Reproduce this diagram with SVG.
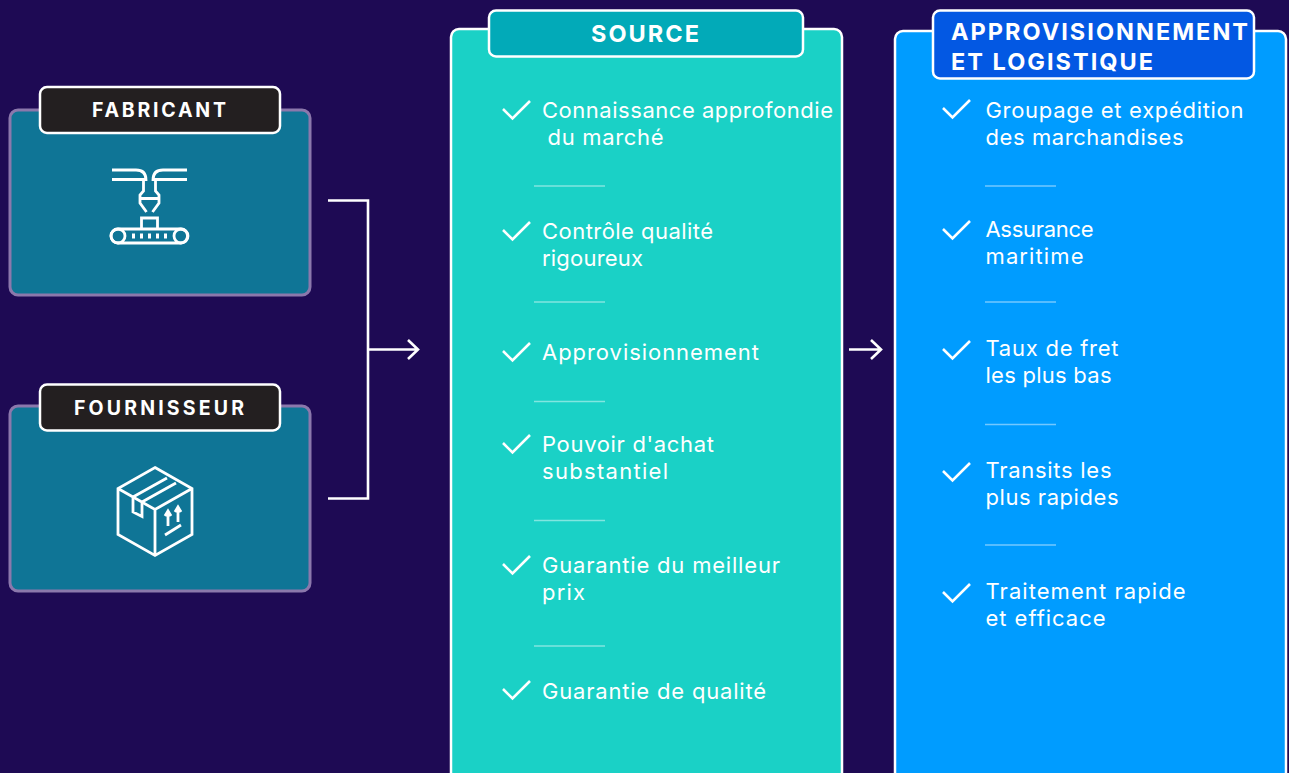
<svg xmlns="http://www.w3.org/2000/svg" width="1289" height="773" viewBox="0 0 1289 773">
<style>
.card{stroke-width:3}
.side{fill:#0f7596;stroke:#8b78ac}
.tag{stroke:#fff;stroke-width:2.5}
.h{font-family:"Inter","Liberation Sans",sans-serif;font-weight:700;fill:#fff;font-size:19.500px}
.hl{font-size:23.500px}
.b{font-family:"Inter","Noto Sans",sans-serif;font-weight:400;fill:#fff;font-size:22px}
.ck{fill:none;stroke:#fff;stroke-width:2.6}
.div{stroke:#fff;stroke-opacity:.45;stroke-width:1.4}
.ic{fill:none;stroke:#fff;stroke-width:2.8}
.c{fill:none;stroke:#fff;stroke-width:2.6}
</style>
<defs><path id="ck" class="ck" d="M0 -3L9.500 6.500L27 -11"/></defs>
<rect width="1289" height="773" fill="#1e0a54"/>
<g id="connectors">
<path class="c" d="M328 200.500H368V498.500H328"/>
<path class="c" d="M368 349.500H417M408 340L418 349.500L408 359"/>
<path class="c" d="M849 349.500H880M871 340L881 349.500L871 359"/>
</g>
<g id="fabricant">
<rect class="card side" x="10" y="110" width="300" height="185" rx="8"/>
<rect class="tag" x="40" y="87" width="240" height="46" rx="7" fill="#231f20"/>
<text class="h" x="159" y="116.500" text-anchor="middle" textLength="134">FABRICANT</text>
<g class="ic">
<path d="M112 170H136Q146 170 146 180V181M187 170H163Q153 170 153 180V181M112 179.500H145M187 179.500H154"/>
<path d="M143.500 181V191L140 195V203L146.500 212M155.500 181V191L159 195V203L152.500 212M140 198.500H159"/>
<path d="M141.500 228V218H157.500V228"/>
<rect x="111" y="229" width="76.500" height="14" rx="7"/>
<circle cx="118" cy="236" r="7"/><circle cx="181" cy="236" r="7"/>
<path d="M132 236H170" stroke-width="5" stroke-dasharray="3 5"/>
</g>
</g>
<g id="fournisseur">
<rect class="card side" x="10" y="406" width="300" height="185" rx="8"/>
<rect class="tag" x="40" y="384.500" width="240" height="46" rx="7" fill="#231f20"/>
<text class="h" x="159" y="414.500" text-anchor="middle" textLength="170">FOURNISSEUR</text>
<g class="ic">
<path d="M155 467.500L192 488.500V534.500L155 555.500L118 534.500V488.500ZM118 488.500L155 509.500L192 488.500M155 509.500V555.500"/>
<path d="M133 498V512L142 516.500V503M133 497L167 478M142 502L176 483"/>
<path d="M168 526V513M165 516L168 511L171 516M178 522V509M175 512L178 507L181 512M165 535L181 525"/>
</g>
</g>
<g id="source">
<rect x="451" y="29" width="391" height="760" rx="8" fill="#1ad1c6" stroke="#fff" stroke-width="2.500"/>
<rect class="tag" x="489" y="10.500" width="314" height="46" rx="7" fill="#02aab8"/>
<text class="h hl" x="645" y="42" text-anchor="middle" textLength="108">SOURCE</text>
<g>
<use href="#ck" x="503" y="112"/>
<text class="b" x="542" y="118" textLength="291">Connaissance approfondie</text>
<text class="b" x="547.500" y="145" textLength="116">du marché</text>
<use href="#ck" x="503" y="233"/>
<text class="b" x="542" y="239" textLength="171">Contrôle qualité</text>
<text class="b" x="542" y="266" textLength="101">rigoureux</text>
<use href="#ck" x="503" y="354"/>
<text class="b" x="542" y="360" textLength="217">Approvisionnement</text>
<use href="#ck" x="503" y="446"/>
<text class="b" x="542" y="452" textLength="172">Pouvoir d'achat</text>
<text class="b" x="542" y="479" textLength="126">substantiel</text>
<use href="#ck" x="503" y="567"/>
<text class="b" x="542" y="573" textLength="238">Guarantie du meilleur</text>
<text class="b" x="542" y="600" textLength="43">prix</text>
<use href="#ck" x="503" y="692"/>
<text class="b" x="542" y="699" textLength="224">Guarantie de qualité</text>
<path class="div" d="M534 186H605M534 302H605M534 401.500H605M534 520.500H605M534 646H605"/>
</g>
</g>
<g id="appro">
<rect x="895" y="31" width="391" height="760" rx="8" fill="#009cff" stroke="#fff" stroke-width="2.500"/>
<rect class="tag" x="933" y="10.500" width="321" height="68" rx="7" fill="#0358e3"/>
<text class="h hl" x="951" y="40" textLength="297">APPROVISIONNEMENT</text>
<text class="h hl" x="951" y="70" textLength="202">ET LOGISTIQUE</text>
<use href="#ck" x="943" y="111"/>
<text class="b" x="985.500" y="118" textLength="258">Groupage et expédition</text>
<text class="b" x="985.500" y="145" textLength="198">des marchandises</text>
<use href="#ck" x="943" y="232"/>
<text class="b" x="985.500" y="237" textLength="108">Assurance</text>
<text class="b" x="985.500" y="264" textLength="98">maritime</text>
<use href="#ck" x="943" y="352"/>
<text class="b" x="985.500" y="356" textLength="133">Taux de fret</text>
<text class="b" x="985.500" y="383" textLength="126">les plus bas</text>
<use href="#ck" x="943" y="474"/>
<text class="b" x="985.500" y="478" textLength="126">Transits les</text>
<text class="b" x="985.500" y="505" textLength="133">plus rapides</text>
<use href="#ck" x="943" y="595"/>
<text class="b" x="985.500" y="599" textLength="200">Traitement rapide</text>
<text class="b" x="985.500" y="626" textLength="120">et efficace</text>
<path class="div" d="M985 186H1056M985 302H1056M985 424.500H1056M985 545H1056"/>
</g>
</svg>
